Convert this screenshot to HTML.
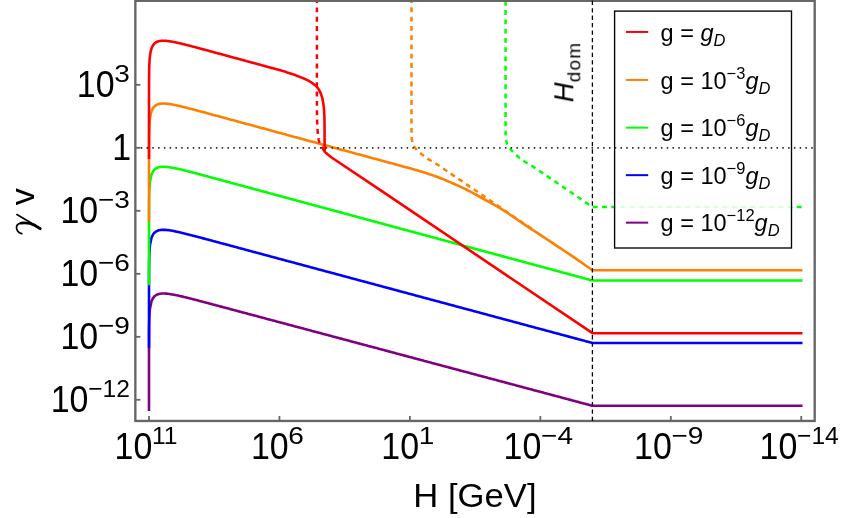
<!DOCTYPE html>
<html><head><meta charset="utf-8"><title>plot</title>
<style>html,body{margin:0;padding:0;background:#fff;}body{width:843px;height:518px;overflow:hidden;font-family:"Liberation Sans", sans-serif;}</style></head>
<body>
<svg width="843" height="518" viewBox="0 0 843 518" style="display:block;font-family:'Liberation Sans',sans-serif">
<rect width="843" height="518" fill="#ffffff"/>
<defs><clipPath id="clip"><rect x="135.35" y="0.8" width="679.35" height="420.15"/></clipPath></defs>
<g clip-path="url(#clip)" fill="none" stroke-linejoin="round">
<path d="M149.00,411.00 L149.00,410.48 L149.00,409.56 L149.00,408.64 L149.00,407.71 L149.00,406.79 L149.00,405.86 L149.00,404.94 L149.00,404.01 L149.00,403.09 L149.00,402.16 L149.00,401.24 L149.00,400.31 L149.00,399.39 L149.00,398.47 L149.00,397.54 L149.00,396.62 L149.00,395.69 L149.00,394.77 L149.00,393.84 L149.00,392.92 L149.00,391.99 L149.00,391.07 L149.00,390.15 L149.00,389.22 L149.00,388.30 L149.00,387.37 L149.00,386.45 L149.00,385.52 L149.00,384.60 L149.00,383.67 L149.00,382.75 L149.00,381.82 L149.00,380.90 L149.00,379.98 L149.00,379.05 L149.00,378.13 L149.00,377.20 L149.00,376.28 L149.00,375.35 L149.00,374.43 L149.00,373.50 L149.00,372.58 L149.00,371.66 L149.00,370.73 L149.00,369.81 L149.00,368.88 L149.00,367.96 L149.00,367.03 L149.00,366.11 L149.00,365.18 L149.00,364.26 L149.00,363.34 L149.00,362.41 L149.00,361.49 L149.00,360.56 L149.00,359.64 L149.00,358.71 L149.00,357.79 L149.00,356.87 L149.01,355.94 L149.01,355.02 L149.01,354.09 L149.01,353.17 L149.01,352.25 L149.01,351.32 L149.01,350.40 L149.01,349.47 L149.01,348.55 L149.01,347.63 L149.01,346.70 L149.02,345.78 L149.02,344.86 L149.02,343.93 L149.02,343.01 L149.02,342.09 L149.03,341.16 L149.03,340.24 L149.03,339.32 L149.04,338.40 L149.04,337.48 L149.04,336.55 L149.05,335.63 L149.05,334.71 L149.06,333.79 L149.06,332.87 L149.07,331.95 L149.08,331.03 L149.09,330.12 L149.10,329.20 L149.11,328.28 L149.12,327.37 L149.13,326.45 L149.15,325.54 L149.16,324.62 L149.18,323.71 L149.20,322.80 L149.22,321.89 L149.24,320.99 L149.27,320.08 L149.30,319.18 L149.33,318.28 L149.36,317.38 L149.40,316.48 L149.44,315.59 L149.49,314.70 L149.54,313.82 L149.60,312.93 L149.67,312.06 L149.74,311.19 L149.82,310.32 L149.90,309.46 L150.00,308.61 L150.05,308.20 L151.53,301.27 L153.01,298.14 L154.49,296.32 L155.97,295.18 L157.45,294.43 L158.93,293.96 L160.41,293.67 L161.89,293.52 L163.37,293.47 L164.85,293.50 L166.33,293.60 L167.81,293.74 L169.29,293.93 L170.77,294.16 L172.25,294.41 L173.73,294.68 L175.21,294.97 L176.69,295.28 L178.17,295.60 L179.65,295.93 L181.13,296.27 L182.60,296.62 L184.08,296.98 L185.56,297.34 L187.04,297.71 L188.52,298.08 L190.00,298.45 L191.48,298.83 L192.96,299.21 L194.44,299.59 L195.92,299.98 L197.40,300.36 L198.88,300.75 L200.36,301.14 L201.84,301.53 L203.32,301.92 L204.80,302.31 L206.28,302.70 L207.76,303.09 L209.24,303.49 L210.72,303.88 L212.20,304.27 L213.68,304.66 L215.16,305.06 L216.64,305.45 L218.12,305.85 L219.60,306.24 L221.08,306.63 L222.56,307.03 L224.04,307.42 L225.52,307.82 L227.00,308.21 L228.48,308.61 L229.96,309.00 L231.44,309.40 L232.92,309.79 L234.40,310.19 L235.88,310.58 L237.36,310.98 L238.84,311.37 L240.32,311.77 L241.80,312.16 L243.28,312.56 L244.76,312.95 L246.23,313.35 L247.71,313.74 L249.19,314.14 L250.67,314.53 L252.15,314.93 L253.63,315.32 L255.11,315.72 L256.59,316.11 L258.07,316.51 L259.55,316.90 L261.03,317.30 L262.51,317.69 L263.99,318.09 L265.47,318.48 L266.95,318.88 L268.43,319.27 L269.91,319.67 L271.39,320.06 L272.87,320.46 L274.35,320.85 L275.83,321.25 L277.31,321.64 L278.79,322.04 L280.27,322.43 L281.75,322.83 L283.23,323.22 L284.71,323.62 L286.19,324.01 L287.67,324.41 L289.15,324.81 L290.63,325.20 L292.11,325.60 L293.59,325.99 L295.07,326.39 L296.55,326.78 L298.03,327.18 L299.51,327.57 L300.99,327.97 L302.47,328.36 L303.95,328.76 L305.43,329.15 L306.91,329.55 L308.38,329.94 L309.86,330.34 L311.34,330.73 L312.82,331.13 L314.30,331.52 L315.78,331.92 L317.26,332.31 L318.74,332.71 L320.22,333.10 L321.70,333.50 L323.18,333.89 L324.66,334.29 L326.14,334.68 L327.62,335.08 L329.10,335.47 L330.58,335.87 L332.06,336.26 L333.54,336.66 L335.02,337.05 L336.50,337.45 L337.98,337.84 L339.46,338.24 L340.94,338.63 L342.42,339.03 L343.90,339.42 L345.38,339.82 L346.86,340.21 L348.34,340.61 L349.82,341.00 L351.30,341.40 L352.78,341.79 L354.26,342.19 L355.74,342.58 L357.22,342.98 L358.70,343.37 L360.18,343.77 L361.66,344.16 L363.14,344.56 L364.62,344.95 L366.10,345.35 L367.58,345.75 L369.06,346.14 L370.54,346.54 L372.01,346.93 L373.49,347.33 L374.97,347.72 L376.45,348.12 L377.93,348.51 L379.41,348.91 L380.89,349.30 L382.37,349.70 L383.85,350.09 L385.33,350.49 L386.81,350.88 L388.29,351.28 L389.77,351.67 L391.25,352.07 L392.73,352.46 L394.21,352.86 L395.69,353.25 L397.17,353.65 L398.65,354.04 L400.13,354.44 L401.61,354.83 L403.09,355.23 L404.57,355.62 L406.05,356.02 L407.53,356.41 L409.01,356.81 L410.49,357.20 L411.97,357.60 L413.45,357.99 L414.93,358.39 L416.41,358.78 L417.89,359.18 L419.37,359.57 L420.85,359.97 L422.33,360.36 L423.81,360.76 L425.29,361.15 L426.77,361.55 L428.25,361.94 L429.73,362.34 L431.21,362.73 L432.69,363.13 L434.17,363.52 L435.64,363.92 L437.12,364.31 L438.60,364.71 L440.08,365.10 L441.56,365.50 L443.04,365.90 L444.52,366.29 L446.00,366.69 L447.48,367.08 L448.96,367.48 L450.44,367.87 L451.92,368.27 L453.40,368.66 L454.88,369.06 L456.36,369.45 L457.84,369.85 L459.32,370.24 L460.80,370.64 L462.28,371.03 L463.76,371.43 L465.24,371.82 L466.72,372.22 L468.20,372.61 L469.68,373.01 L471.16,373.40 L472.64,373.80 L474.12,374.19 L475.60,374.59 L477.08,374.98 L478.56,375.38 L480.04,375.77 L481.52,376.17 L483.00,376.56 L484.48,376.96 L485.96,377.35 L487.44,377.75 L488.92,378.14 L490.40,378.54 L491.88,378.93 L493.36,379.33 L494.84,379.72 L496.32,380.12 L497.79,380.51 L499.27,380.91 L500.75,381.30 L502.23,381.70 L503.71,382.09 L505.19,382.49 L506.67,382.88 L508.15,383.28 L509.63,383.67 L511.11,384.07 L512.59,384.46 L514.07,384.86 L515.55,385.25 L517.03,385.65 L518.51,386.05 L519.99,386.44 L521.47,386.84 L522.95,387.23 L524.43,387.63 L525.91,388.02 L527.39,388.42 L528.87,388.81 L530.35,389.21 L531.83,389.60 L533.31,390.00 L534.79,390.39 L536.27,390.79 L537.75,391.18 L539.23,391.58 L540.71,391.97 L542.19,392.37 L543.67,392.76 L545.15,393.16 L546.63,393.55 L548.11,393.95 L549.59,394.34 L551.07,394.74 L552.55,395.13 L554.03,395.53 L555.51,395.92 L556.99,396.32 L558.47,396.71 L559.95,397.11 L561.42,397.50 L562.90,397.90 L564.38,398.29 L565.86,398.69 L567.34,399.08 L568.82,399.48 L570.30,399.87 L571.78,400.27 L573.26,400.66 L574.74,401.06 L576.22,401.45 L577.70,401.85 L579.18,402.24 L580.66,402.64 L582.14,403.03 L583.62,403.43 L585.10,403.82 L586.58,404.22 L588.06,404.61 L589.54,405.01 L591.02,405.40 L592.50,405.80 L592.50,405.80 L802.50,405.80" stroke="#800080" stroke-width="2.6" stroke-linecap="butt"/>
<path d="M149.00,348.00 L149.00,347.77 L149.00,346.84 L149.00,345.92 L149.00,344.99 L149.00,344.07 L149.00,343.14 L149.00,342.22 L149.00,341.29 L149.00,340.37 L149.00,339.45 L149.00,338.52 L149.00,337.60 L149.00,336.67 L149.00,335.75 L149.00,334.82 L149.00,333.90 L149.00,332.97 L149.00,332.05 L149.00,331.13 L149.00,330.20 L149.00,329.28 L149.00,328.35 L149.00,327.43 L149.00,326.50 L149.00,325.58 L149.00,324.65 L149.00,323.73 L149.00,322.80 L149.00,321.88 L149.00,320.96 L149.00,320.03 L149.00,319.11 L149.00,318.18 L149.00,317.26 L149.00,316.33 L149.00,315.41 L149.00,314.48 L149.00,313.56 L149.00,312.63 L149.00,311.71 L149.00,310.79 L149.00,309.86 L149.00,308.94 L149.00,308.01 L149.00,307.09 L149.00,306.16 L149.00,305.24 L149.00,304.31 L149.00,303.39 L149.00,302.47 L149.00,301.54 L149.00,300.62 L149.00,299.69 L149.00,298.77 L149.00,297.84 L149.00,296.92 L149.00,296.00 L149.00,295.07 L149.00,294.15 L149.00,293.22 L149.01,292.30 L149.01,291.37 L149.01,290.45 L149.01,289.53 L149.01,288.60 L149.01,287.68 L149.01,286.75 L149.01,285.83 L149.01,284.91 L149.01,283.98 L149.01,283.06 L149.02,282.14 L149.02,281.21 L149.02,280.29 L149.02,279.37 L149.02,278.44 L149.03,277.52 L149.03,276.60 L149.03,275.68 L149.04,274.76 L149.04,273.83 L149.04,272.91 L149.05,271.99 L149.05,271.07 L149.06,270.15 L149.06,269.23 L149.07,268.31 L149.08,267.39 L149.09,266.47 L149.10,265.56 L149.11,264.64 L149.12,263.72 L149.13,262.81 L149.15,261.89 L149.16,260.98 L149.18,260.07 L149.20,259.16 L149.22,258.25 L149.24,257.34 L149.27,256.44 L149.30,255.54 L149.33,254.64 L149.36,253.74 L149.40,252.84 L149.44,251.95 L149.49,251.06 L149.54,250.17 L149.60,249.29 L149.67,248.42 L149.74,247.55 L149.82,246.68 L149.90,245.82 L150.00,244.97 L150.05,244.56 L151.53,237.63 L153.01,234.50 L154.49,232.69 L155.97,231.55 L157.45,230.81 L158.93,230.33 L160.41,230.05 L161.89,229.90 L163.37,229.85 L164.85,229.89 L166.33,229.99 L167.81,230.14 L169.29,230.33 L170.77,230.55 L172.25,230.81 L173.73,231.08 L175.21,231.38 L176.69,231.69 L178.17,232.01 L179.65,232.35 L181.13,232.69 L182.60,233.04 L184.08,233.40 L185.56,233.77 L187.04,234.14 L188.52,234.51 L190.00,234.89 L191.48,235.27 L192.96,235.65 L194.44,236.04 L195.92,236.42 L197.40,236.81 L198.88,237.20 L200.36,237.59 L201.84,237.99 L203.32,238.38 L204.80,238.77 L206.28,239.17 L207.76,239.56 L209.24,239.96 L210.72,240.35 L212.20,240.75 L213.68,241.14 L215.16,241.54 L216.64,241.94 L218.12,242.34 L219.60,242.73 L221.08,243.13 L222.56,243.53 L224.04,243.92 L225.52,244.32 L227.00,244.72 L228.48,245.12 L229.96,245.51 L231.44,245.91 L232.92,246.31 L234.40,246.71 L235.88,247.10 L237.36,247.50 L238.84,247.90 L240.32,248.30 L241.80,248.70 L243.28,249.09 L244.76,249.49 L246.23,249.89 L247.71,250.29 L249.19,250.69 L250.67,251.08 L252.15,251.48 L253.63,251.88 L255.11,252.28 L256.59,252.67 L258.07,253.07 L259.55,253.47 L261.03,253.87 L262.51,254.27 L263.99,254.66 L265.47,255.06 L266.95,255.46 L268.43,255.86 L269.91,256.26 L271.39,256.65 L272.87,257.05 L274.35,257.45 L275.83,257.85 L277.31,258.25 L278.79,258.64 L280.27,259.04 L281.75,259.44 L283.23,259.84 L284.71,260.23 L286.19,260.63 L287.67,261.03 L289.15,261.43 L290.63,261.83 L292.11,262.22 L293.59,262.62 L295.07,263.02 L296.55,263.42 L298.03,263.82 L299.51,264.21 L300.99,264.61 L302.47,265.01 L303.95,265.41 L305.43,265.81 L306.91,266.20 L308.38,266.60 L309.86,267.00 L311.34,267.40 L312.82,267.80 L314.30,268.19 L315.78,268.59 L317.26,268.99 L318.74,269.39 L320.22,269.78 L321.70,270.18 L323.18,270.58 L324.66,270.98 L326.14,271.38 L327.62,271.77 L329.10,272.17 L330.58,272.57 L332.06,272.97 L333.54,273.37 L335.02,273.76 L336.50,274.16 L337.98,274.56 L339.46,274.96 L340.94,275.36 L342.42,275.75 L343.90,276.15 L345.38,276.55 L346.86,276.95 L348.34,277.35 L349.82,277.74 L351.30,278.14 L352.78,278.54 L354.26,278.94 L355.74,279.33 L357.22,279.73 L358.70,280.13 L360.18,280.53 L361.66,280.93 L363.14,281.32 L364.62,281.72 L366.10,282.12 L367.58,282.52 L369.06,282.92 L370.54,283.31 L372.01,283.71 L373.49,284.11 L374.97,284.51 L376.45,284.91 L377.93,285.30 L379.41,285.70 L380.89,286.10 L382.37,286.50 L383.85,286.89 L385.33,287.29 L386.81,287.69 L388.29,288.09 L389.77,288.49 L391.25,288.88 L392.73,289.28 L394.21,289.68 L395.69,290.08 L397.17,290.48 L398.65,290.87 L400.13,291.27 L401.61,291.67 L403.09,292.07 L404.57,292.47 L406.05,292.86 L407.53,293.26 L409.01,293.66 L410.49,294.06 L411.97,294.46 L413.45,294.85 L414.93,295.25 L416.41,295.65 L417.89,296.05 L419.37,296.44 L420.85,296.84 L422.33,297.24 L423.81,297.64 L425.29,298.04 L426.77,298.43 L428.25,298.83 L429.73,299.23 L431.21,299.63 L432.69,300.03 L434.17,300.42 L435.64,300.82 L437.12,301.22 L438.60,301.62 L440.08,302.02 L441.56,302.41 L443.04,302.81 L444.52,303.21 L446.00,303.61 L447.48,304.00 L448.96,304.40 L450.44,304.80 L451.92,305.20 L453.40,305.60 L454.88,305.99 L456.36,306.39 L457.84,306.79 L459.32,307.19 L460.80,307.59 L462.28,307.98 L463.76,308.38 L465.24,308.78 L466.72,309.18 L468.20,309.58 L469.68,309.97 L471.16,310.37 L472.64,310.77 L474.12,311.17 L475.60,311.57 L477.08,311.96 L478.56,312.36 L480.04,312.76 L481.52,313.16 L483.00,313.55 L484.48,313.95 L485.96,314.35 L487.44,314.75 L488.92,315.15 L490.40,315.54 L491.88,315.94 L493.36,316.34 L494.84,316.74 L496.32,317.14 L497.79,317.53 L499.27,317.93 L500.75,318.33 L502.23,318.73 L503.71,319.13 L505.19,319.52 L506.67,319.92 L508.15,320.32 L509.63,320.72 L511.11,321.12 L512.59,321.51 L514.07,321.91 L515.55,322.31 L517.03,322.71 L518.51,323.10 L519.99,323.50 L521.47,323.90 L522.95,324.30 L524.43,324.70 L525.91,325.09 L527.39,325.49 L528.87,325.89 L530.35,326.29 L531.83,326.69 L533.31,327.08 L534.79,327.48 L536.27,327.88 L537.75,328.28 L539.23,328.68 L540.71,329.07 L542.19,329.47 L543.67,329.87 L545.15,330.27 L546.63,330.66 L548.11,331.06 L549.59,331.46 L551.07,331.86 L552.55,332.26 L554.03,332.65 L555.51,333.05 L556.99,333.45 L558.47,333.85 L559.95,334.25 L561.42,334.64 L562.90,335.04 L564.38,335.44 L565.86,335.84 L567.34,336.24 L568.82,336.63 L570.30,337.03 L571.78,337.43 L573.26,337.83 L574.74,338.23 L576.22,338.62 L577.70,339.02 L579.18,339.42 L580.66,339.82 L582.14,340.21 L583.62,340.61 L585.10,341.01 L586.58,341.41 L588.06,341.81 L589.54,342.20 L591.02,342.60 L592.50,343.00 L592.50,343.00 L802.50,343.00" stroke="#0000ff" stroke-width="2.6" stroke-linecap="butt"/>
<path d="M149.00,285.20 L149.00,284.61 L149.00,283.68 L149.00,282.76 L149.00,281.83 L149.00,280.91 L149.00,279.98 L149.00,279.06 L149.00,278.14 L149.00,277.21 L149.00,276.29 L149.00,275.36 L149.00,274.44 L149.00,273.51 L149.00,272.59 L149.00,271.66 L149.00,270.74 L149.00,269.81 L149.00,268.89 L149.00,267.97 L149.00,267.04 L149.00,266.12 L149.00,265.19 L149.00,264.27 L149.00,263.34 L149.00,262.42 L149.00,261.49 L149.00,260.57 L149.00,259.64 L149.00,258.72 L149.00,257.80 L149.00,256.87 L149.00,255.95 L149.00,255.02 L149.00,254.10 L149.00,253.17 L149.00,252.25 L149.00,251.32 L149.00,250.40 L149.00,249.48 L149.00,248.55 L149.00,247.63 L149.00,246.70 L149.00,245.78 L149.00,244.85 L149.00,243.93 L149.00,243.00 L149.00,242.08 L149.00,241.16 L149.00,240.23 L149.00,239.31 L149.00,238.38 L149.00,237.46 L149.00,236.53 L149.00,235.61 L149.00,234.68 L149.00,233.76 L149.00,232.84 L149.00,231.91 L149.00,230.99 L149.00,230.06 L149.01,229.14 L149.01,228.22 L149.01,227.29 L149.01,226.37 L149.01,225.44 L149.01,224.52 L149.01,223.60 L149.01,222.67 L149.01,221.75 L149.01,220.82 L149.01,219.90 L149.02,218.98 L149.02,218.05 L149.02,217.13 L149.02,216.21 L149.02,215.29 L149.03,214.36 L149.03,213.44 L149.03,212.52 L149.04,211.60 L149.04,210.67 L149.04,209.75 L149.05,208.83 L149.05,207.91 L149.06,206.99 L149.06,206.07 L149.07,205.15 L149.08,204.23 L149.09,203.31 L149.10,202.40 L149.11,201.48 L149.12,200.56 L149.13,199.65 L149.15,198.74 L149.16,197.82 L149.18,196.91 L149.20,196.00 L149.22,195.09 L149.24,194.19 L149.27,193.28 L149.30,192.38 L149.33,191.48 L149.36,190.58 L149.40,189.68 L149.44,188.79 L149.49,187.90 L149.54,187.02 L149.60,186.13 L149.67,185.26 L149.74,184.39 L149.82,183.52 L149.90,182.66 L150.00,181.81 L150.05,181.40 L151.53,174.47 L153.01,171.35 L154.49,169.54 L155.97,168.40 L157.45,167.66 L158.93,167.19 L160.41,166.91 L161.89,166.76 L163.37,166.72 L164.85,166.75 L166.33,166.86 L167.81,167.01 L169.29,167.20 L170.77,167.43 L172.25,167.68 L173.73,167.96 L175.21,168.26 L176.69,168.57 L178.17,168.90 L179.65,169.24 L181.13,169.58 L182.60,169.94 L184.08,170.30 L185.56,170.67 L187.04,171.04 L188.52,171.41 L190.00,171.79 L191.48,172.18 L192.96,172.56 L194.44,172.95 L195.92,173.34 L197.40,173.73 L198.88,174.12 L200.36,174.52 L201.84,174.91 L203.32,175.31 L204.80,175.70 L206.28,176.10 L207.76,176.50 L209.24,176.89 L210.72,177.29 L212.20,177.69 L213.68,178.09 L215.16,178.49 L216.64,178.89 L218.12,179.29 L219.60,179.69 L221.08,180.08 L222.56,180.48 L224.04,180.88 L225.52,181.28 L227.00,181.68 L228.48,182.08 L229.96,182.48 L231.44,182.88 L232.92,183.28 L234.40,183.68 L235.88,184.08 L237.36,184.48 L238.84,184.88 L240.32,185.28 L241.80,185.68 L243.28,186.09 L244.76,186.49 L246.23,186.89 L247.71,187.29 L249.19,187.69 L250.67,188.09 L252.15,188.49 L253.63,188.89 L255.11,189.29 L256.59,189.69 L258.07,190.09 L259.55,190.49 L261.03,190.89 L262.51,191.29 L263.99,191.69 L265.47,192.09 L266.95,192.49 L268.43,192.89 L269.91,193.29 L271.39,193.69 L272.87,194.09 L274.35,194.49 L275.83,194.89 L277.31,195.29 L278.79,195.69 L280.27,196.09 L281.75,196.49 L283.23,196.89 L284.71,197.29 L286.19,197.69 L287.67,198.09 L289.15,198.49 L290.63,198.89 L292.11,199.29 L293.59,199.69 L295.07,200.09 L296.55,200.49 L298.03,200.89 L299.51,201.30 L300.99,201.70 L302.47,202.10 L303.95,202.50 L305.43,202.90 L306.91,203.30 L308.38,203.70 L309.86,204.10 L311.34,204.50 L312.82,204.90 L314.30,205.30 L315.78,205.70 L317.26,206.10 L318.74,206.50 L320.22,206.90 L321.70,207.30 L323.18,207.70 L324.66,208.10 L326.14,208.50 L327.62,208.90 L329.10,209.30 L330.58,209.70 L332.06,210.10 L333.54,210.50 L335.02,210.90 L336.50,211.30 L337.98,211.70 L339.46,212.10 L340.94,212.50 L342.42,212.90 L343.90,213.30 L345.38,213.70 L346.86,214.10 L348.34,214.50 L349.82,214.90 L351.30,215.30 L352.78,215.71 L354.26,216.11 L355.74,216.51 L357.22,216.91 L358.70,217.31 L360.18,217.71 L361.66,218.11 L363.14,218.51 L364.62,218.91 L366.10,219.31 L367.58,219.71 L369.06,220.11 L370.54,220.51 L372.01,220.91 L373.49,221.31 L374.97,221.71 L376.45,222.11 L377.93,222.51 L379.41,222.91 L380.89,223.31 L382.37,223.71 L383.85,224.11 L385.33,224.51 L386.81,224.91 L388.29,225.31 L389.77,225.71 L391.25,226.11 L392.73,226.51 L394.21,226.91 L395.69,227.31 L397.17,227.71 L398.65,228.11 L400.13,228.51 L401.61,228.91 L403.09,229.31 L404.57,229.71 L406.05,230.12 L407.53,230.52 L409.01,230.92 L410.49,231.32 L411.97,231.72 L413.45,232.12 L414.93,232.52 L416.41,232.92 L417.89,233.32 L419.37,233.72 L420.85,234.12 L422.33,234.52 L423.81,234.92 L425.29,235.32 L426.77,235.72 L428.25,236.12 L429.73,236.52 L431.21,236.92 L432.69,237.32 L434.17,237.72 L435.64,238.12 L437.12,238.52 L438.60,238.92 L440.08,239.32 L441.56,239.72 L443.04,240.12 L444.52,240.52 L446.00,240.92 L447.48,241.32 L448.96,241.72 L450.44,242.12 L451.92,242.52 L453.40,242.92 L454.88,243.32 L456.36,243.72 L457.84,244.12 L459.32,244.53 L460.80,244.93 L462.28,245.33 L463.76,245.73 L465.24,246.13 L466.72,246.53 L468.20,246.93 L469.68,247.33 L471.16,247.73 L472.64,248.13 L474.12,248.53 L475.60,248.93 L477.08,249.33 L478.56,249.73 L480.04,250.13 L481.52,250.53 L483.00,250.93 L484.48,251.33 L485.96,251.73 L487.44,252.13 L488.92,252.53 L490.40,252.93 L491.88,253.33 L493.36,253.73 L494.84,254.13 L496.32,254.53 L497.79,254.93 L499.27,255.33 L500.75,255.73 L502.23,256.13 L503.71,256.53 L505.19,256.93 L506.67,257.33 L508.15,257.73 L509.63,258.13 L511.11,258.53 L512.59,258.94 L514.07,259.34 L515.55,259.74 L517.03,260.14 L518.51,260.54 L519.99,260.94 L521.47,261.34 L522.95,261.74 L524.43,262.14 L525.91,262.54 L527.39,262.94 L528.87,263.34 L530.35,263.74 L531.83,264.14 L533.31,264.54 L534.79,264.94 L536.27,265.34 L537.75,265.74 L539.23,266.14 L540.71,266.54 L542.19,266.94 L543.67,267.34 L545.15,267.74 L546.63,268.14 L548.11,268.54 L549.59,268.94 L551.07,269.34 L552.55,269.74 L554.03,270.14 L555.51,270.54 L556.99,270.94 L558.47,271.34 L559.95,271.74 L561.42,272.14 L562.90,272.54 L564.38,272.94 L565.86,273.35 L567.34,273.75 L568.82,274.15 L570.30,274.55 L571.78,274.95 L573.26,275.35 L574.74,275.75 L576.22,276.15 L577.70,276.55 L579.18,276.95 L580.66,277.35 L582.14,277.75 L583.62,278.15 L585.10,278.55 L586.58,278.95 L588.06,279.35 L589.54,279.75 L591.02,280.15 L592.50,280.55 L592.50,280.55 L802.50,280.55" stroke="#00ff00" stroke-width="2.6" stroke-linecap="butt"/>
<path d="M149.00,222.00 L149.00,221.40 L149.00,220.48 L149.00,219.55 L149.00,218.63 L149.00,217.70 L149.00,216.78 L149.00,215.85 L149.00,214.93 L149.00,214.01 L149.00,213.08 L149.00,212.16 L149.00,211.23 L149.00,210.31 L149.00,209.38 L149.00,208.46 L149.00,207.53 L149.00,206.61 L149.00,205.69 L149.00,204.76 L149.00,203.84 L149.00,202.91 L149.00,201.99 L149.00,201.06 L149.00,200.14 L149.00,199.21 L149.00,198.29 L149.00,197.36 L149.00,196.44 L149.00,195.52 L149.00,194.59 L149.00,193.67 L149.00,192.74 L149.00,191.82 L149.00,190.89 L149.00,189.97 L149.00,189.04 L149.00,188.12 L149.00,187.19 L149.00,186.27 L149.00,185.35 L149.00,184.42 L149.00,183.50 L149.00,182.57 L149.00,181.65 L149.00,180.72 L149.00,179.80 L149.00,178.87 L149.00,177.95 L149.00,177.03 L149.00,176.10 L149.00,175.18 L149.00,174.25 L149.00,173.33 L149.00,172.40 L149.00,171.48 L149.00,170.56 L149.00,169.63 L149.00,168.71 L149.00,167.78 L149.00,166.86 L149.01,165.93 L149.01,165.01 L149.01,164.09 L149.01,163.16 L149.01,162.24 L149.01,161.31 L149.01,160.39 L149.01,159.47 L149.01,158.54 L149.01,157.62 L149.01,156.70 L149.02,155.77 L149.02,154.85 L149.02,153.93 L149.02,153.00 L149.02,152.08 L149.03,151.16 L149.03,150.24 L149.03,149.31 L149.04,148.39 L149.04,147.47 L149.04,146.55 L149.05,145.63 L149.05,144.71 L149.06,143.79 L149.06,142.87 L149.07,141.95 L149.08,141.03 L149.09,140.11 L149.10,139.19 L149.11,138.28 L149.12,137.36 L149.13,136.44 L149.15,135.53 L149.16,134.62 L149.18,133.71 L149.20,132.80 L149.22,131.89 L149.24,130.98 L149.27,130.08 L149.30,129.17 L149.33,128.27 L149.36,127.37 L149.40,126.48 L149.44,125.59 L149.49,124.70 L149.54,123.81 L149.60,122.93 L149.67,122.05 L149.74,121.18 L149.82,120.32 L149.90,119.46 L150.00,118.61 L150.05,118.20 L150.92,113.34 L151.79,110.57 L152.66,108.73 L153.53,107.41 L154.40,106.43 L155.27,105.68 L156.14,105.10 L157.01,104.65 L157.87,104.31 L158.74,104.04 L159.61,103.85 L160.48,103.71 L161.35,103.61 L162.22,103.55 L163.09,103.53 L163.96,103.54 L164.83,103.57 L165.70,103.62 L166.57,103.70 L167.44,103.79 L168.31,103.89 L169.18,104.01 L170.05,104.14 L170.92,104.28 L171.78,104.43 L172.65,104.58 L173.52,104.75 L174.39,104.92 L175.26,105.10 L176.13,105.28 L177.00,105.47 L177.87,105.66 L178.74,105.86 L179.61,106.06 L180.48,106.27 L181.35,106.47 L182.22,106.68 L183.09,106.89 L183.96,107.11 L184.83,107.32 L185.70,107.54 L186.56,107.76 L187.43,107.98 L188.30,108.20 L189.17,108.43 L190.04,108.65 L190.91,108.88 L191.78,109.10 L192.65,109.33 L193.52,109.56 L194.39,109.79 L195.26,110.02 L196.13,110.25 L197.00,110.48 L197.87,110.71 L198.74,110.94 L199.61,111.18 L200.48,111.41 L201.34,111.64 L202.21,111.87 L203.08,112.11 L203.95,112.34 L204.82,112.58 L205.69,112.81 L206.56,113.04 L207.43,113.28 L208.30,113.51 L209.17,113.75 L210.04,113.98 L210.91,114.22 L211.78,114.45 L212.65,114.69 L213.52,114.92 L214.39,115.16 L215.25,115.39 L216.12,115.63 L216.99,115.87 L217.86,116.10 L218.73,116.34 L219.60,116.57 L220.47,116.81 L221.34,117.04 L222.21,117.28 L223.08,117.52 L223.95,117.75 L224.82,117.99 L225.69,118.22 L226.56,118.46 L227.43,118.70 L228.30,118.93 L229.17,119.17 L230.03,119.41 L230.90,119.64 L231.77,119.88 L232.64,120.11 L233.51,120.35 L234.38,120.59 L235.25,120.82 L236.12,121.06 L236.99,121.29 L237.86,121.53 L238.73,121.77 L239.60,122.00 L240.47,122.24 L241.34,122.48 L242.21,122.71 L243.08,122.95 L243.94,123.18 L244.81,123.42 L245.68,123.66 L246.55,123.89 L247.42,124.13 L248.29,124.37 L249.16,124.60 L250.03,124.84 L250.90,125.07 L251.77,125.31 L252.64,125.55 L253.51,125.78 L254.38,126.02 L255.25,126.26 L256.12,126.49 L256.99,126.73 L257.86,126.97 L258.72,127.20 L259.59,127.44 L260.46,127.67 L261.33,127.91 L262.20,128.15 L263.07,128.38 L263.94,128.62 L264.81,128.86 L265.68,129.09 L266.55,129.33 L267.42,129.56 L268.29,129.80 L269.16,130.04 L270.03,130.27 L270.90,130.51 L271.77,130.75 L272.64,130.98 L273.50,131.22 L274.37,131.45 L275.24,131.69 L276.11,131.93 L276.98,132.16 L277.85,132.40 L278.72,132.64 L279.59,132.87 L280.46,133.11 L281.33,133.35 L282.20,133.58 L283.07,133.82 L283.94,134.05 L284.81,134.29 L285.68,134.53 L286.55,134.76 L287.41,135.00 L288.28,135.24 L289.15,135.47 L290.02,135.71 L290.89,135.94 L291.76,136.18 L292.63,136.42 L293.50,136.65 L294.37,136.89 L295.24,137.13 L296.11,137.36 L296.98,137.60 L297.85,137.83 L298.72,138.07 L299.59,138.31 L300.46,138.54 L301.33,138.78 L302.19,139.02 L303.06,139.25 L303.93,139.49 L304.80,139.73 L305.67,139.96 L306.54,140.20 L307.41,140.43 L308.28,140.67 L309.15,140.91 L310.02,141.14 L310.89,141.38 L311.76,141.62 L312.63,141.85 L313.50,142.09 L314.37,142.32 L315.24,142.56 L316.11,142.80 L316.97,143.03 L317.84,143.27 L318.71,143.51 L319.58,143.74 L320.45,143.98 L321.32,144.22 L322.19,144.45 L323.06,144.69 L323.93,144.92 L324.80,145.16 L325.67,145.40 L326.54,145.63 L327.41,145.87 L328.28,146.11 L329.15,146.34 L330.02,146.58 L330.88,146.81 L331.75,147.05 L332.62,147.29 L333.49,147.52 L334.36,147.76 L335.23,148.00 L336.10,148.23 L336.97,148.47 L337.84,148.70 L338.71,148.94 L339.58,149.18 L340.45,149.41 L341.32,149.65 L342.19,149.89 L343.06,150.12 L343.93,150.36 L344.80,150.60 L345.66,150.83 L346.53,151.07 L347.40,151.30 L348.27,151.54 L349.14,151.78 L350.01,152.01 L350.88,152.25 L351.75,152.49 L352.62,152.72 L353.49,152.96 L354.36,153.19 L355.23,153.43 L356.10,153.67 L356.97,153.90 L357.84,154.14 L358.71,154.38 L359.57,154.61 L360.44,154.85 L361.31,155.09 L362.18,155.32 L363.05,155.56 L363.92,155.79 L364.79,156.03 L365.66,156.27 L366.53,156.50 L367.40,156.74 L368.27,156.98 L369.14,157.21 L370.01,157.45 L370.88,157.68 L371.75,157.92 L372.62,158.16 L373.49,158.39 L374.35,158.63 L375.22,158.87 L376.09,159.10 L376.96,159.34 L377.83,159.57 L378.70,159.81 L379.57,160.05 L380.44,160.28 L381.31,160.52 L382.18,160.76 L383.05,160.99 L383.92,161.23 L384.79,161.47 L385.66,161.70 L386.53,161.94 L387.40,162.17 L388.27,162.41 L389.13,162.65 L390.00,162.88 L390.87,163.12 L391.74,163.36 L392.61,163.59 L393.48,163.83 L394.35,164.06 L395.22,164.30 L396.09,164.54 L396.96,164.77 L397.83,165.01 L398.70,165.25 L399.57,165.48 L400.44,165.72 L401.31,165.95 L402.18,166.19 L403.04,166.43 L403.91,166.66 L404.78,166.90 L405.65,167.14 L406.52,167.37 L407.39,167.61 L408.26,167.85 L409.13,168.08 L410.00,168.32 L411.71,168.78 L413.41,169.25 L415.11,169.73 L416.80,170.22 L418.50,170.73 L420.19,171.24 L421.88,171.76 L423.57,172.28 L425.25,172.81 L426.93,173.35 L428.61,173.91 L430.29,174.47 L431.96,175.04 L433.63,175.62 L435.29,176.21 L436.94,176.82 L438.60,177.44 L440.24,178.08 L441.89,178.73 L443.53,179.39 L445.16,180.06 L446.80,180.74 L448.43,181.42 L450.05,182.12 L451.67,182.82 L453.29,183.52 L454.91,184.23 L456.52,184.95 L458.13,185.68 L459.74,186.42 L461.34,187.16 L462.94,187.92 L464.53,188.68 L466.12,189.46 L467.70,190.24 L469.28,191.04 L470.85,191.85 L472.40,192.68 L473.95,193.52 L475.50,194.38 L477.04,195.24 L478.57,196.12 L480.11,197.00 L481.64,197.88 L483.18,198.76 L484.71,199.63 L486.25,200.49 L487.80,201.35 L489.35,202.19 L490.91,203.03 L492.47,203.87 L494.02,204.71 L495.57,205.56 L497.11,206.42 L498.64,207.30 L500.16,208.20 L501.66,209.12 L503.15,210.06 L504.63,211.02 L506.10,211.99 L507.57,212.98 L509.03,213.97 L510.49,214.98 L511.94,215.99 L513.39,217.00 L514.84,218.01 L516.29,219.02 L517.75,220.02 L519.21,221.02 L520.67,222.01 L522.14,222.99 L523.61,223.97 L525.08,224.95 L526.56,225.92 L528.03,226.89 L529.51,227.86 L530.98,228.83 L532.46,229.80 L533.94,230.77 L535.42,231.74 L536.89,232.71 L538.37,233.67 L539.85,234.64 L541.33,235.61 L542.81,236.58 L544.28,237.55 L545.76,238.52 L547.23,239.49 L548.71,240.46 L550.18,241.43 L551.66,242.41 L553.13,243.39 L554.60,244.37 L556.07,245.34 L557.54,246.32 L559.01,247.31 L560.48,248.29 L561.94,249.27 L563.41,250.25 L564.88,251.24 L566.34,252.22 L567.81,253.21 L569.27,254.20 L570.73,255.19 L572.19,256.18 L573.65,257.18 L575.11,258.18 L576.57,259.18 L578.02,260.18 L579.48,261.18 L580.93,262.19 L582.38,263.19 L583.83,264.20 L585.28,265.22 L586.72,266.23 L588.17,267.24 L589.61,268.26 L591.06,269.28 L592.50,270.30 L802.50,270.30" stroke="#ff8000" stroke-width="2.6" stroke-linecap="butt"/>
<path d="M149.00,159.00 L149.00,158.59 L149.00,157.67 L149.00,156.74 L149.00,155.82 L149.00,154.89 L149.00,153.97 L149.00,153.04 L149.00,152.12 L149.00,151.20 L149.00,150.27 L149.00,149.35 L149.00,148.42 L149.00,147.50 L149.00,146.57 L149.00,145.65 L149.00,144.72 L149.00,143.80 L149.00,142.87 L149.00,141.95 L149.00,141.03 L149.00,140.10 L149.00,139.18 L149.00,138.25 L149.00,137.33 L149.00,136.40 L149.00,135.48 L149.00,134.55 L149.00,133.63 L149.00,132.71 L149.00,131.78 L149.00,130.86 L149.00,129.93 L149.00,129.01 L149.00,128.08 L149.00,127.16 L149.00,126.23 L149.00,125.31 L149.00,124.38 L149.00,123.46 L149.00,122.54 L149.00,121.61 L149.00,120.69 L149.00,119.76 L149.00,118.84 L149.00,117.91 L149.00,116.99 L149.00,116.06 L149.00,115.14 L149.00,114.22 L149.00,113.29 L149.00,112.37 L149.00,111.44 L149.00,110.52 L149.00,109.59 L149.00,108.67 L149.00,107.75 L149.00,106.82 L149.00,105.90 L149.00,104.97 L149.00,104.05 L149.01,103.12 L149.01,102.20 L149.01,101.28 L149.01,100.35 L149.01,99.43 L149.01,98.50 L149.01,97.58 L149.01,96.66 L149.01,95.73 L149.01,94.81 L149.01,93.89 L149.02,92.96 L149.02,92.04 L149.02,91.12 L149.02,90.19 L149.02,89.27 L149.03,88.35 L149.03,87.42 L149.03,86.50 L149.04,85.58 L149.04,84.66 L149.04,83.74 L149.05,82.82 L149.05,81.90 L149.06,80.98 L149.06,80.06 L149.07,79.14 L149.08,78.22 L149.09,77.30 L149.10,76.38 L149.11,75.47 L149.12,74.55 L149.13,73.63 L149.15,72.72 L149.16,71.81 L149.18,70.90 L149.20,69.99 L149.22,69.08 L149.24,68.17 L149.27,67.27 L149.30,66.36 L149.33,65.46 L149.36,64.56 L149.40,63.67 L149.44,62.78 L149.49,61.89 L149.54,61.00 L149.60,60.12 L149.67,59.24 L149.74,58.37 L149.82,57.51 L149.90,56.65 L150.00,55.80 L150.05,55.39 L150.50,52.48 L150.95,50.43 L151.39,48.87 L151.84,47.63 L152.29,46.62 L152.74,45.78 L153.19,45.07 L153.63,44.47 L154.08,43.94 L154.53,43.49 L154.98,43.10 L155.43,42.75 L155.87,42.45 L156.32,42.19 L156.77,41.96 L157.22,41.75 L157.67,41.57 L158.11,41.42 L158.56,41.29 L159.01,41.17 L159.46,41.07 L159.91,40.99 L160.35,40.92 L160.80,40.86 L161.25,40.81 L161.70,40.78 L162.15,40.75 L162.59,40.73 L163.04,40.72 L163.49,40.72 L163.94,40.73 L164.39,40.74 L164.83,40.76 L165.28,40.79 L165.73,40.82 L166.18,40.85 L166.63,40.89 L167.07,40.94 L167.52,40.99 L167.97,41.04 L168.42,41.10 L168.87,41.16 L169.31,41.22 L169.76,41.29 L170.21,41.36 L170.66,41.43 L171.11,41.50 L171.55,41.58 L172.00,41.66 L172.45,41.74 L172.90,41.82 L173.35,41.91 L173.79,42.00 L174.24,42.09 L174.69,42.18 L175.14,42.27 L175.59,42.36 L176.03,42.46 L176.48,42.55 L176.93,42.65 L177.38,42.75 L177.83,42.85 L178.27,42.95 L178.72,43.05 L179.17,43.16 L179.62,43.26 L180.07,43.36 L180.51,43.47 L180.96,43.58 L181.41,43.68 L181.86,43.79 L182.31,43.90 L182.75,44.01 L183.20,44.12 L183.65,44.23 L184.10,44.34 L184.55,44.45 L184.99,44.56 L185.44,44.67 L185.89,44.79 L186.34,44.90 L186.79,45.01 L187.23,45.13 L187.68,45.24 L188.13,45.36 L188.58,45.47 L189.03,45.59 L189.47,45.70 L189.92,45.82 L190.37,45.94 L190.82,46.05 L191.27,46.17 L191.71,46.29 L192.16,46.40 L192.61,46.52 L193.06,46.64 L193.51,46.76 L193.95,46.87 L194.40,46.99 L194.85,47.11 L195.30,47.23 L195.75,47.35 L196.19,47.47 L196.64,47.59 L197.09,47.70 L197.54,47.82 L197.99,47.94 L198.43,48.06 L198.88,48.18 L199.33,48.30 L199.78,48.42 L200.23,48.54 L200.67,48.66 L201.12,48.78 L201.57,48.90 L202.02,49.02 L202.47,49.14 L202.91,49.26 L203.36,49.38 L203.81,49.50 L204.26,49.62 L204.71,49.74 L205.15,49.87 L205.60,49.99 L206.05,50.11 L206.50,50.23 L206.95,50.35 L207.39,50.47 L207.84,50.59 L208.29,50.71 L208.74,50.83 L209.19,50.95 L209.63,51.08 L210.08,51.20 L210.53,51.32 L210.98,51.44 L211.43,51.56 L211.87,51.68 L212.32,51.80 L212.77,51.92 L213.22,52.05 L213.67,52.17 L214.11,52.29 L214.56,52.41 L215.01,52.53 L215.46,52.65 L215.91,52.77 L216.35,52.90 L216.80,53.02 L217.25,53.14 L217.70,53.26 L218.14,53.38 L218.59,53.50 L219.04,53.62 L219.49,53.75 L219.94,53.87 L220.38,53.99 L220.83,54.11 L221.28,54.23 L221.73,54.35 L222.18,54.48 L222.62,54.60 L223.07,54.72 L223.52,54.84 L223.97,54.96 L224.42,55.08 L224.86,55.21 L225.31,55.33 L225.76,55.45 L226.21,55.57 L226.66,55.69 L227.10,55.81 L227.55,55.94 L228.00,56.06 L228.45,56.18 L228.90,56.30 L229.34,56.42 L229.79,56.55 L230.24,56.67 L230.69,56.79 L231.14,56.91 L231.58,57.03 L232.03,57.15 L232.48,57.28 L232.93,57.40 L233.38,57.52 L233.82,57.64 L234.27,57.76 L234.72,57.89 L235.17,58.01 L235.62,58.13 L236.06,58.25 L236.51,58.37 L236.96,58.49 L237.41,58.62 L237.86,58.74 L238.30,58.86 L238.75,58.98 L239.20,59.10 L239.65,59.23 L240.10,59.35 L240.54,59.47 L240.99,59.59 L241.44,59.71 L241.89,59.83 L242.34,59.96 L242.78,60.08 L243.23,60.20 L243.68,60.32 L244.13,60.44 L244.58,60.57 L245.02,60.69 L245.47,60.81 L245.92,60.93 L246.37,61.05 L246.82,61.17 L247.26,61.30 L247.71,61.42 L248.16,61.54 L248.61,61.66 L249.06,61.78 L249.50,61.91 L249.95,62.03 L250.40,62.15 L250.85,62.27 L251.30,62.39 L251.74,62.51 L252.19,62.64 L252.64,62.76 L253.09,62.88 L253.54,63.00 L253.98,63.12 L254.43,63.25 L254.88,63.37 L255.33,63.49 L255.78,63.61 L256.22,63.73 L256.67,63.85 L257.12,63.98 L257.57,64.10 L258.02,64.22 L258.46,64.34 L258.91,64.46 L259.36,64.59 L259.81,64.71 L260.26,64.83 L260.70,64.95 L261.15,65.07 L261.60,65.20 L262.05,65.32 L262.50,65.44 L262.94,65.56 L263.39,65.68 L263.84,65.80 L264.29,65.93 L264.74,66.05 L265.18,66.17 L265.63,66.29 L266.08,66.41 L266.53,66.54 L266.98,66.66 L267.42,66.78 L267.87,66.90 L268.32,67.02 L268.77,67.14 L269.22,67.27 L269.66,67.39 L270.11,67.51 L270.56,67.63 L271.01,67.75 L271.46,67.88 L271.90,68.00 L272.35,68.12 L272.80,68.24 L273.25,68.36 L273.70,68.49 L274.14,68.61 L274.59,68.73 L275.04,68.85 L275.49,68.97 L275.94,69.09 L276.38,69.22 L276.83,69.34 L277.28,69.46 L277.73,69.58 L278.18,69.70 L278.62,69.83 L279.07,69.95 L279.52,70.07 L279.97,70.19 L280.42,70.31 L280.86,70.44 L281.31,70.56 L281.76,70.68 L282.21,70.80 L282.66,70.92 L283.10,71.04 L283.55,71.17 L284.00,71.29 L284.80,71.58 L285.59,71.87 L286.39,72.15 L287.19,72.44 L287.99,72.71 L288.79,72.99 L289.59,73.26 L290.39,73.53 L291.20,73.79 L292.01,74.04 L292.82,74.29 L293.63,74.54 L294.43,74.80 L295.23,75.08 L296.02,75.38 L296.81,75.69 L297.59,76.01 L298.38,76.33 L299.16,76.66 L299.94,76.98 L300.73,77.29 L301.52,77.60 L302.31,77.91 L303.09,78.22 L303.88,78.55 L304.65,78.88 L305.43,79.22 L306.21,79.57 L306.98,79.92 L307.74,80.30 L308.49,80.68 L309.22,81.09 L309.95,81.53 L310.67,81.98 L311.38,82.45 L312.07,82.93 L312.76,83.43 L313.44,83.93 L314.13,84.44 L314.81,84.96 L315.47,85.50 L316.09,86.07 L316.66,86.67 L317.20,87.31 L317.73,87.98 L318.24,88.67 L318.72,89.39 L319.17,90.12 L319.59,90.86 L319.96,91.61 L320.30,92.36 L320.62,93.14 L320.94,93.92 L321.24,94.72 L321.52,95.53 L321.78,96.35 L322.02,97.17 L322.24,98.00 L322.44,98.82 L322.61,99.65 L322.77,100.47 L322.92,101.30 L323.06,102.13 L323.20,102.97 L323.33,103.81 L323.45,104.65 L323.56,105.49 L323.67,106.34 L323.76,107.18 L323.84,108.03 L323.92,108.87 L323.98,109.72 L324.04,110.56 L324.09,111.40 L324.14,112.25 L324.18,113.09 L324.23,113.94 L324.27,114.78 L324.31,115.63 L324.35,116.48 L324.38,117.32 L324.41,118.17 L324.44,119.02 L324.46,119.87 L324.48,120.71 L324.49,121.56 L324.50,122.41 L324.51,123.25 L324.52,124.10 L324.53,124.94 L324.53,125.79 L324.54,126.64 L324.55,127.48 L324.55,128.33 L324.56,129.18 L324.57,130.02 L324.57,130.87 L324.58,131.72 L324.58,132.56 L324.58,133.41 L324.59,134.26 L324.59,135.11 L324.59,135.95 L324.60,136.80 L324.60,137.65 L324.60,138.49 L324.60,139.34 L324.60,140.19 L324.60,141.03 L324.60,141.88 L324.60,142.73 L324.60,143.57 L324.60,144.42 L324.60,145.27 L324.60,146.11 L324.60,146.96 L324.60,147.81 L324.60,148.65 L324.60,149.50 L324.60,151.60 L327.50,154.30 L331.60,157.50 L380.00,189.90 L592.50,333.20 L802.50,333.20" stroke="#ff0000" stroke-width="2.6" stroke-linecap="butt"/>
<path d="M505.55,-17.70 L505.55,120.00 L505.55,120.97 L505.55,121.93 L505.55,122.89 L505.55,123.86 L505.55,124.82 L505.56,125.78 L505.56,126.74 L505.56,127.70 L505.57,128.66 L505.57,129.62 L505.57,130.57 L505.58,131.53 L505.59,132.48 L505.59,133.44 L505.60,134.39 L505.61,135.35 L505.67,136.32 L505.76,137.29 L505.88,138.26 L506.02,139.23 L506.19,140.18 L506.38,141.12 L506.59,142.04 L506.81,142.94 L507.11,143.81 L507.52,144.67 L508.02,145.51 L508.57,146.33 L509.15,147.13 L509.72,147.92 L510.28,148.68 L510.86,149.44 L511.46,150.19 L512.09,150.93 L512.73,151.65 L513.39,152.36 L514.07,153.06 L514.76,153.74 L515.45,154.40 L516.15,155.04 L516.86,155.66 L517.58,156.27 L518.30,156.88 L519.04,157.48 L519.78,158.07 L520.53,158.65 L521.29,159.23 L522.07,159.80 L522.85,160.36 L523.64,160.90 L524.44,161.44 L525.25,161.97 L526.06,162.49 L526.89,162.99 L527.73,163.48 L528.59,163.96 L529.45,164.43 L530.32,164.88 L531.20,165.32 L592.50,207.00 L802.50,207.00" stroke="#00ff00" stroke-width="2.5" stroke-dasharray="4.9 4.37"/>
<path d="M411.50,-11.17 L411.50,120.00 L411.50,120.91 L411.50,121.82 L411.50,122.73 L411.50,123.64 L411.51,124.54 L411.51,125.45 L411.51,126.35 L411.51,127.25 L411.52,128.15 L411.52,129.05 L411.53,129.95 L411.54,130.85 L411.54,131.75 L411.55,132.65 L411.56,133.54 L411.57,134.44 L411.58,135.34 L411.59,136.23 L411.60,137.12 L411.66,138.02 L411.78,138.92 L411.94,139.82 L412.13,140.71 L412.35,141.58 L412.56,142.44 L412.83,143.30 L413.15,144.16 L413.51,145.01 L413.91,145.83 L414.34,146.63 L414.79,147.38 L415.27,148.10 L415.81,148.80 L416.40,149.48 L417.03,150.14 L417.68,150.79 L418.36,151.41 L419.06,152.03 L419.75,152.62 L420.45,153.20 L421.13,153.77 L421.82,154.34 L422.51,154.89 L423.21,155.44 L423.92,155.99 L424.64,156.53 L425.36,157.06 L426.09,157.58 L426.83,158.09 L427.58,158.60 L428.34,159.10 L429.10,159.58 L429.88,160.06 L430.66,160.52 L431.45,160.98 L432.25,161.42 L433.06,161.85 L433.87,162.27 L434.70,162.68 L535.00,231.09" stroke="#ff8000" stroke-width="2.5" stroke-dasharray="4.9 4.37"/>
<path d="M316.90,-11.30 L316.90,100.00 L316.90,100.89 L316.90,101.78 L316.90,102.67 L316.90,103.56 L316.91,104.45 L316.91,105.34 L316.91,106.23 L316.92,107.12 L316.92,108.01 L316.92,108.90 L316.93,109.80 L316.93,110.69 L316.94,111.58 L316.94,112.47 L316.95,113.36 L316.96,114.25 L316.97,115.14 L316.98,116.03 L317.00,116.92 L317.02,117.81 L317.05,118.70 L317.07,119.59 L317.10,120.48 L317.14,121.37 L317.17,122.26 L317.21,123.15 L317.24,124.04 L317.28,124.93 L317.32,125.82 L317.37,126.71 L317.41,127.60 L317.46,128.49 L317.51,129.38 L317.56,130.27 L317.62,131.16 L317.69,132.05 L317.76,132.94 L317.84,133.83 L317.93,134.72 L318.02,135.60 L318.13,136.48 L318.24,137.36 L318.37,138.23 L318.53,139.11 L318.73,139.98 L318.96,140.85 L319.22,141.72 L319.51,142.57 L319.81,143.40 L320.13,144.21 L320.51,145.00 L320.96,145.77 L321.44,146.53 L321.94,147.28 L322.43,148.03 L322.91,148.78 L323.40,149.53 L323.89,150.27 L324.40,151.00" stroke="#ff0000" stroke-width="2.5" stroke-dasharray="4.9 4.45"/>
</g>
<rect x="135.35" y="0.8" width="679.35" height="420.15" fill="none" stroke="#666666" stroke-width="2.35"/>
<line x1="149.00" y1="420.95" x2="149.00" y2="415.95" stroke="#666666" stroke-width="1.8"/>
<line x1="279.45" y1="420.95" x2="279.45" y2="415.95" stroke="#666666" stroke-width="1.8"/>
<line x1="409.90" y1="420.95" x2="409.90" y2="415.95" stroke="#666666" stroke-width="1.8"/>
<line x1="540.35" y1="420.95" x2="540.35" y2="415.95" stroke="#666666" stroke-width="1.8"/>
<line x1="670.80" y1="420.95" x2="670.80" y2="415.95" stroke="#666666" stroke-width="1.8"/>
<line x1="801.25" y1="420.95" x2="801.25" y2="415.95" stroke="#666666" stroke-width="1.8"/>
<line x1="135.35" y1="84.80" x2="140.35" y2="84.80" stroke="#666666" stroke-width="1.8"/>
<line x1="135.35" y1="147.80" x2="140.35" y2="147.80" stroke="#666666" stroke-width="1.8"/>
<line x1="135.35" y1="210.80" x2="140.35" y2="210.80" stroke="#666666" stroke-width="1.8"/>
<line x1="135.35" y1="273.80" x2="140.35" y2="273.80" stroke="#666666" stroke-width="1.8"/>
<line x1="135.35" y1="336.80" x2="140.35" y2="336.80" stroke="#666666" stroke-width="1.8"/>
<line x1="135.35" y1="399.80" x2="140.35" y2="399.80" stroke="#666666" stroke-width="1.8"/>
<line x1="592.4" y1="-6.7" x2="592.4" y2="421.95" stroke="#000" stroke-width="1.3" stroke-dasharray="4.3 3.13"/>
<rect x="614.6" y="11.1" width="176.89999999999998" height="236.9" fill="#ffffff" fill-opacity="0.86" stroke="#000" stroke-width="1.35"/>
<line x1="140.75" y1="147.8" x2="814.7" y2="147.8" stroke="#2a2a2a" stroke-width="1.75" stroke-dasharray="1.5 4.28"/>
<g opacity="0.999">
<line x1="625.9" y1="31.950000000000003" x2="648.2" y2="31.950000000000003" stroke="#ff0000" stroke-width="2.0"/>
<text x="660.6" y="40.7" font-size="23.5" fill="#000">g = <tspan font-style="italic">g</tspan><tspan font-style="italic" font-size="16.5" dy="4.8">D</tspan></text>
<line x1="625.9" y1="79.94999999999999" x2="648.2" y2="79.94999999999999" stroke="#ff8000" stroke-width="2.0"/>
<text x="660.6" y="88.7" font-size="23.5" fill="#000">g = 10<tspan font-size="16.5" dy="-10.2">−3</tspan><tspan font-style="italic" dy="10.2">g</tspan><tspan font-style="italic" font-size="16.5" dy="4.8">D</tspan></text>
<line x1="625.9" y1="127.64999999999999" x2="648.2" y2="127.64999999999999" stroke="#00ff00" stroke-width="2.0"/>
<text x="660.6" y="136.4" font-size="23.5" fill="#000">g = 10<tspan font-size="16.5" dy="-10.2">−6</tspan><tspan font-style="italic" dy="10.2">g</tspan><tspan font-style="italic" font-size="16.5" dy="4.8">D</tspan></text>
<line x1="625.9" y1="175.15" x2="648.2" y2="175.15" stroke="#0000ff" stroke-width="2.0"/>
<text x="660.6" y="183.9" font-size="23.5" fill="#000">g = 10<tspan font-size="16.5" dy="-10.2">−9</tspan><tspan font-style="italic" dy="10.2">g</tspan><tspan font-style="italic" font-size="16.5" dy="4.8">D</tspan></text>
<line x1="625.9" y1="222.65" x2="648.2" y2="222.65" stroke="#800080" stroke-width="2.0"/>
<text x="660.6" y="231.4" font-size="23.5" fill="#000">g = 10<tspan font-size="16.5" dy="-10.2">−12</tspan><tspan font-style="italic" dy="10.2">g</tspan><tspan font-style="italic" font-size="16.5" dy="4.8">D</tspan></text>
<text transform="translate(573.3,102.3) rotate(-90)" font-size="27.5" fill="#000"><tspan font-style="italic">H</tspan><tspan font-size="19" dy="6.5" letter-spacing="1.2">dom</tspan></text>
<text transform="translate(114.55,458.80) scale(0.93,1)" font-size="36.5">10</text><text transform="translate(152.00,443.80) scale(1.0,1)" font-size="24.6">11</text>
<text transform="translate(250.88,458.80) scale(0.93,1)" font-size="36.5">10</text><text transform="translate(288.33,443.80) scale(1.14,1)" font-size="24.6">6</text>
<text transform="translate(381.33,458.80) scale(0.93,1)" font-size="36.5">10</text><text transform="translate(418.78,443.80) scale(1.14,1)" font-size="24.6">1</text>
<text transform="translate(503.59,458.80) scale(0.93,1)" font-size="36.5">10</text><text transform="translate(541.04,443.80) scale(1.14,1)" font-size="24.6">−4</text>
<text transform="translate(634.04,458.80) scale(0.93,1)" font-size="36.5">10</text><text transform="translate(671.49,443.80) scale(1.14,1)" font-size="24.6">−9</text>
<text transform="translate(759.62,458.80) scale(0.93,1)" font-size="36.5">10</text><text transform="translate(797.06,443.80) scale(1.0,1)" font-size="24.6">−14</text>
<text transform="translate(76.86,97.40) scale(0.93,1)" font-size="36.5">10</text><text transform="translate(114.31,82.40) scale(1.14,1)" font-size="24.6">3</text>
<text transform="translate(131.20,160.40) scale(0.93,1)" text-anchor="end" font-size="36.5">1</text>
<text transform="translate(60.48,223.40) scale(0.93,1)" font-size="36.5">10</text><text transform="translate(97.93,208.40) scale(1.14,1)" font-size="24.6">−3</text>
<text transform="translate(60.48,286.40) scale(0.93,1)" font-size="36.5">10</text><text transform="translate(97.93,271.40) scale(1.14,1)" font-size="24.6">−6</text>
<text transform="translate(60.48,349.40) scale(0.93,1)" font-size="36.5">10</text><text transform="translate(97.93,334.40) scale(1.14,1)" font-size="24.6">−9</text>
<text transform="translate(50.73,412.40) scale(0.93,1)" font-size="36.5">10</text><text transform="translate(88.18,397.40) scale(1.0,1)" font-size="24.6">−12</text>
<text transform="translate(474.9,506.8) scale(1.05,1)" text-anchor="middle" font-size="33" fill="#000">H [GeV]</text>
<text transform="translate(33.6,205.2) rotate(-90)" font-size="34" fill="#000">v</text>
<g fill="none" stroke="#000" stroke-linecap="round" stroke-linejoin="round"><path d="M21.8,233.7 C19.6,233.2 17.2,231.2 16.6,228.4 C16.1,225.6 17.6,223.6 21.0,223.1" stroke-width="1.7"/><path d="M21.0,223.1 C26.5,222.3 31.5,223.6 35.0,225.4 C37.0,226.5 38.8,227.7 40.2,228.6" stroke-width="2.9"/><path d="M16.9,214.6 C22.5,217.9 28.5,221.4 35.5,225.6" stroke-width="1.7"/></g>
</g>
</svg>
</body></html>
